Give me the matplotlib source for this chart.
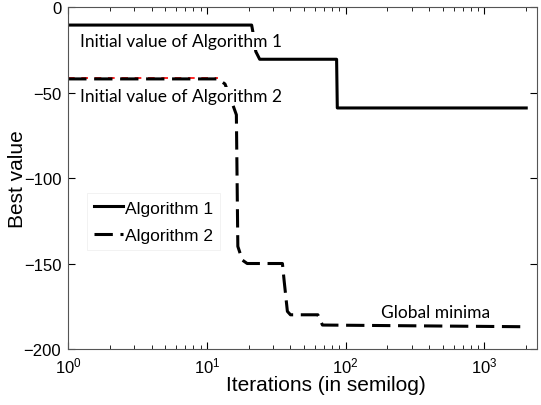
#! /usr/bin/env python3

import matplotlib
matplotlib.use('Agg')
import matplotlib.pyplot as plt

# convergence curves
alg1_iter = [1, 21, 21.6, 22.5, 24, 86, 87, 2000]
alg1_best = [-10.5, -10.5, -16, -26, -30.5, -30.5, -59, -59]

alg2_iter = [1, 12, 13.5, 15.5, 16.3, 16.7, 18, 19.5, 35, 36, 38, 40, 63, 68, 2000]
alg2_best = [-42, -42, -45, -58, -63, -140, -148, -150, -150, -160, -178, -180, -180, -186, -187]

red_iter = [1, 12]
red_best = [-41.5, -41.5]

y_ticks = [0, -50, -100, -150, -200]
note_font = ['Lato', 'DejaVu Sans']

plt.rcParams['font.family'] = ['Liberation Sans', 'DejaVu Sans']

fig = plt.figure(figsize=(5.41, 4.06), dpi=100)
ax = fig.add_axes([0.126, 0.138, 0.867, 0.842])

ax.plot(red_iter, red_best, color="red", linewidth=1.2, linestyle=(0, (4, 4)))
ax.plot(alg1_iter, alg1_best, color="black", linewidth=2.2, label="Algorithm 1")
ax.plot(alg2_iter, alg2_best, color="black", linewidth=2.2, linestyle=(0, (6, 2.5)), label="Algorithm 2")

ax.set_xscale("log")
ax.set_xlim(1, 2400)
ax.set_ylim(-200, 0)
ax.set_yticks(y_ticks)
ax.tick_params(which="both", direction="in", top=True, right=True, labelsize=12, pad=5)
ax.tick_params(which="major", length=5)
ax.tick_params(which="minor", length=3)
for spine in ax.spines.values():
    spine.set_color("#555555")
    spine.set_linewidth(0.8)

ax.set_xlabel("Iterations (in semilog)", fontsize=15)
ax.xaxis.set_label_coords(0.55, -0.075)
ax.set_ylabel("Best value", fontsize=15)
ax.yaxis.set_label_coords(-0.088, 0.5)

box = dict(facecolor="white", edgecolor="none", pad=0.5)
ax.text(1.22, -22.7, "Initial value of Algorithm 1", fontsize=12.5, family=note_font,
        va="baseline", bbox=box)
ax.text(1.22, -54.8, "Initial value of Algorithm 2", fontsize=12.5, family=note_font,
        va="baseline", bbox=box)
ax.text(179, -181.4, "Global minima", fontsize=12.5, family=note_font, va="baseline")

leg = ax.legend(loc="upper left", bbox_to_anchor=(0.04, 0.455), fontsize=12.5,
                handlelength=1.7, handletextpad=0.1, borderpad=0.4, borderaxespad=0,
                labelspacing=0.7, fancybox=False, framealpha=1)
leg.get_frame().set_edgecolor("#f0f0f0")
leg.get_frame().set_linewidth(0.6)

plt.savefig("out.png", dpi=100)
